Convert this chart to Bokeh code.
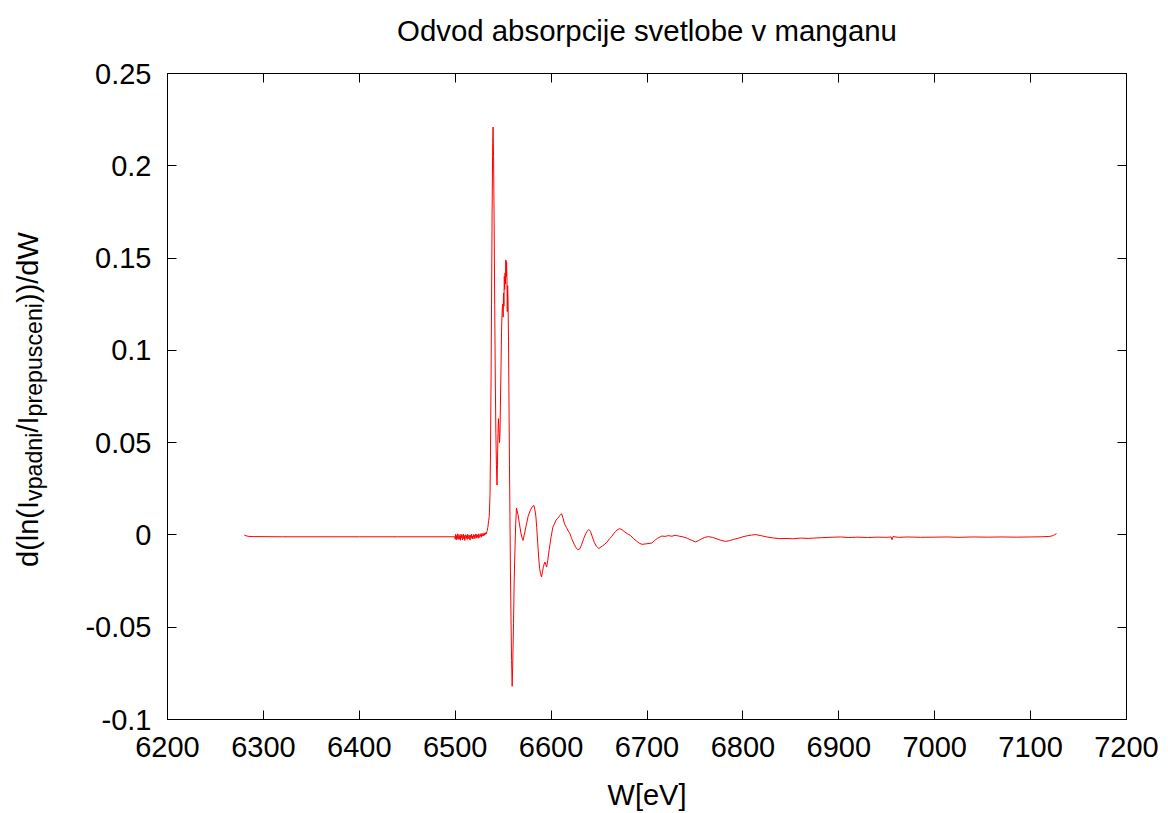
from bokeh.plotting import figure
from bokeh.models import Range1d, LinearAxis, FixedTicker, PrintfTickFormatter, CustomJSTickFormatter, Div
from bokeh.layouts import column
from bokeh.embed import file_html
from bokeh.resources import INLINE

# ---------------- data ----------------
W_base = [6280.0, 6282.0, 6285.0, 6290.0, 6320.0, 6360.0, 6400.0, 6440.0, 6480.0, 6499.5]
D_base = [0.0000, -0.0005, -0.0008, -0.0009, -0.0010, -0.0010, -0.0010, -0.0010, -0.0010, -0.0010]

W_noise = [6500.0, 6500.5, 6501.0, 6501.5, 6502.0, 6502.5, 6503.0, 6503.5, 6504.0, 6504.5,
           6505.0, 6505.5, 6506.0, 6506.5, 6507.0, 6507.5, 6508.0, 6508.5, 6509.0, 6509.5,
           6510.0, 6510.5, 6511.0, 6511.5, 6512.0, 6512.5, 6513.0, 6513.5, 6514.0, 6514.5,
           6515.0, 6515.5, 6516.0, 6516.5, 6517.0, 6517.5, 6518.0, 6518.5, 6519.0, 6519.5,
           6520.0, 6520.5, 6521.0, 6521.5, 6522.0, 6522.5, 6523.0, 6523.5, 6524.0, 6524.5,
           6525.0, 6525.5, 6526.0, 6526.5, 6527.0, 6527.5, 6528.0, 6528.5, 6529.0, 6529.5,
           6530.0, 6530.5, 6531.0, 6531.5, 6532.0, 6532.5, 6533.0, 6533.5, 6534.0, 6534.5, 6535.0]
D_noise = [-0.0022, 0.0003, -0.0027, -0.0004, -0.0019, 0.0006, -0.0025, -0.0008, 0.0002, -0.0023,
           -0.0006, -0.0029, 0.0004, -0.0015, -0.0001, -0.0026, -0.0009, 0.0005, -0.0021, -0.0003,
           -0.0030, -0.0007, 0.0001, -0.0018, -0.0004, -0.0024, 0.0003, -0.0012, -0.0020, 0.0000,
           -0.0016, -0.0028, -0.0002, -0.0013, 0.0004, -0.0019, -0.0006, -0.0022, 0.0002, -0.0011,
           -0.0003, -0.0020, 0.0005, -0.0009, -0.0017, 0.0003, -0.0010, -0.0001, -0.0018, 0.0006,
           -0.0008, -0.0014, 0.0002, -0.0007, 0.0008, -0.0012, 0.0001, -0.0005, 0.0009, -0.0004,
           0.0006, -0.0002, 0.0011, 0.0003, 0.0012, 0.0006, 0.0018, 0.0025, 0.0040, 0.0060, 0.0080]

W_edge = [6535.5, 6536.3, 6536.8, 6537.4, 6537.9, 6538.5, 6539.1, 6539.5, 6540.0, 6540.6,
          6541.2, 6541.8, 6542.4, 6543.0, 6543.6, 6544.1, 6544.6, 6545.1, 6545.6, 6546.2,
          6546.7, 6547.2, 6547.8, 6548.3, 6548.8, 6549.2, 6549.6, 6550.0, 6550.4, 6550.8,
          6551.2, 6551.6, 6552.0, 6552.4, 6552.8, 6553.2, 6553.6, 6554.0, 6554.3, 6554.7,
          6555.1, 6555.6, 6556.1, 6556.6, 6557.1, 6557.6, 6558.2, 6558.8, 6559.4, 6560.0,
          6560.8, 6561.5, 6562.3, 6563.1, 6563.9]
D_edge = [0.010, 0.022, 0.045, 0.085, 0.125, 0.175, 0.212, 0.221, 0.205, 0.170,
          0.125, 0.085, 0.055, 0.038, 0.027, 0.040, 0.055, 0.063, 0.058, 0.050,
          0.055, 0.072, 0.092, 0.110, 0.119, 0.123, 0.125, 0.118, 0.131, 0.124,
          0.140, 0.133, 0.142, 0.136, 0.149, 0.140, 0.148, 0.138, 0.121, 0.135,
          0.128, 0.105, 0.072, 0.038, 0.010, -0.020, -0.045, -0.068, -0.082, -0.070,
          -0.048, -0.025, -0.008, 0.006, 0.0146]

W_exafs = [6565.5, 6567.0, 6568.5, 6570.0, 6570.7, 6572.0, 6574.0, 6576.0, 6578.0, 6580.0,
           6582.0, 6583.0, 6584.2, 6585.0, 6586.0, 6587.0, 6588.0, 6589.0, 6590.0, 6591.0,
           6592.0, 6593.5, 6594.5, 6595.3, 6596.5, 6598.0, 6600.0, 6601.9, 6603.5, 6605.0,
           6607.0, 6609.0, 6610.9, 6612.5, 6614.0, 6616.0, 6618.0, 6619.6, 6621.5, 6624.0,
           6626.0, 6628.0, 6630.0, 6632.0, 6634.0, 6636.0, 6637.5, 6639.4, 6641.0, 6643.0,
           6645.0, 6647.0, 6649.8, 6652.0, 6654.0, 6656.0, 6658.5, 6661.0, 6663.0, 6665.0,
           6667.0, 6669.0, 6671.5, 6674.0, 6677.0, 6680.0, 6682.6, 6686.0, 6689.0, 6692.0,
           6694.8, 6698.0, 6701.0, 6705.0, 6708.0, 6711.0, 6715.5, 6719.0, 6722.0, 6726.0,
           6729.4, 6733.0, 6738.0, 6742.0, 6746.0, 6750.6, 6754.0, 6757.0, 6760.0, 6764.0,
           6768.0, 6772.0, 6777.0, 6781.9, 6786.0, 6790.0, 6795.7, 6800.0, 6805.0, 6809.0,
           6813.0, 6818.0, 6825.0, 6831.0, 6837.5, 6845.0, 6852.0, 6860.0, 6868.0, 6874.0,
           6882.0, 6890.0, 6901.8, 6910.0, 6920.0, 6930.0, 6940.0, 6950.0, 6954.5, 6955.5,
           6956.5, 6962.0, 6972.0, 6985.0, 7000.0, 7013.0, 7025.0, 7040.0, 7055.0, 7070.0,
           7085.0, 7100.0, 7112.0, 7120.0, 7123.0, 7125.0, 7127.0]
D_exafs = [0.011, 0.006, 0.001, -0.002, -0.003, 0.000, 0.005, 0.010, 0.013, 0.015,
           0.016, 0.014, 0.0097, 0.004, -0.004, -0.012, -0.018, -0.021, -0.0228, -0.020,
           -0.017, -0.0147, -0.016, -0.0174, -0.014, -0.008, -0.001, 0.0043, 0.006, 0.008,
           0.009, 0.0105, 0.0115, 0.009, 0.006, 0.004, 0.002, 0.0007, -0.002, -0.005,
           -0.007, -0.008, -0.0075, -0.005, -0.002, 0.0005, 0.002, 0.0029, 0.002, -0.001,
           -0.004, -0.006, -0.0074, -0.0065, -0.0058, -0.005, -0.0038, -0.002, -0.001, 0.0005,
           0.0018, 0.0028, 0.0034, 0.0028, 0.0015, 0.0005, -0.0002, -0.002, -0.0033, -0.0045,
           -0.0051, -0.0049, -0.0047, -0.0044, -0.003, -0.0018, -0.0006, -0.0008, -0.0004, -0.0007,
           -0.0002, -0.0006, -0.0011, -0.0018, -0.0028, -0.0038, -0.0030, -0.0021, -0.0014, -0.0009,
           -0.0013, -0.0020, -0.0029, -0.0035, -0.0031, -0.0025, -0.0017, -0.0010, -0.0004, -0.0001,
           0.0002, -0.0003, -0.0011, -0.0016, -0.0020, -0.0019, -0.0021, -0.0017, -0.0019, -0.0017,
           -0.0015, -0.0013, -0.0011, -0.0014, -0.0012, -0.0014, -0.0012, -0.0013, -0.0011, -0.0026,
           -0.0009, -0.0013, -0.0011, -0.0013, -0.0012, -0.0011, -0.0013, -0.0011, -0.0012, -0.0011,
           -0.0012, -0.0011, -0.0010, -0.0008, -0.0004, 0.0001, 0.0007]

W = W_base + W_noise + W_edge + W_exafs
D = D_base + D_noise + D_edge + D_exafs

x_ticks = [6200, 6300, 6400, 6500, 6600, 6700, 6800, 6900, 7000, 7100, 7200]
y_ticks = [-0.1, -0.05, 0.0, 0.05, 0.1, 0.15, 0.2, 0.25]

TITLE = "Odvod absorpcije svetlobe v manganu"
XLABEL = "W[eV]"
YLABEL_PARTS = ["d(ln(I", "vpadni", "/I", "prepusceni", "))/dW"]

# ---------------- layout ----------------
WIDTH, HEIGHT = 1168, 813
L, R, T, B = 167, 42, 73, 94
FONT = "Liberation Sans"
FS = 29

p = figure(width=WIDTH, height=HEIGHT, output_backend="svg", toolbar_location=None,
           x_range=Range1d(6200, 7200), y_range=Range1d(-0.1, 0.25),
           min_border_left=L, min_border_right=R, min_border_top=T, min_border_bottom=B,
           x_axis_location=None, y_axis_location=None)
p.grid.visible = False
p.outline_line_color = "black"
p.outline_line_width = 1
p.background_fill_color = "white"
p.border_fill_color = "white"

p.line(W, D, line_color="#ff0000", line_width=1)

def style_axis(ax, labels=True, standoff=5):
    ax.major_tick_in = 9
    ax.major_tick_out = 0
    ax.minor_tick_line_color = None
    ax.axis_line_color = "black"
    ax.major_tick_line_color = "black"
    ax.major_label_text_font = FONT
    ax.major_label_text_color = "black"
    ax.major_label_standoff = standoff
    if labels:
        ax.major_label_text_font_size = f"{FS}px"
    else:
        ax.major_label_text_font_size = "1px"
        ax.formatter = CustomJSTickFormatter(code="return ''")

def style_label(ax, text, standoff, size):
    ax.axis_label = text
    ax.axis_label_text_font = FONT
    ax.axis_label_text_font_size = f"{size}px"
    ax.axis_label_text_font_style = "normal"
    ax.axis_label_text_color = "black"
    ax.axis_label_standoff = standoff

xb = LinearAxis(ticker=FixedTicker(ticks=x_ticks))
style_axis(xb, True, 17)
style_label(xb, XLABEL, 19, FS)
p.add_layout(xb, "below")

# top mirror axis (ticks only); its axis label carries the chart title
xt = LinearAxis(ticker=FixedTicker(ticks=x_ticks))
style_axis(xt, False)
style_label(xt, TITLE, 27, 29.4)
p.add_layout(xt, "above")

yl = LinearAxis(ticker=FixedTicker(ticks=y_ticks), formatter=PrintfTickFormatter(format="%g"))
style_axis(yl, True, 16)
p.add_layout(yl, "left")
yr = LinearAxis(ticker=FixedTicker(ticks=y_ticks))
style_axis(yr, False)
p.add_layout(yr, "right")

# rotated y label with subscripts (HTML overlay at the left of the frame)
sub_style = "font-size:23.2px;vertical-align:-4px;line-height:0;"
ylabel_html = (
    f'<span style="font-family:\'{FONT}\';font-size:{FS}px;line-height:{FS}px;color:black;white-space:nowrap;">'
    f'{YLABEL_PARTS[0]}<sub style="{sub_style}">{YLABEL_PARTS[1]}</sub>'
    f'{YLABEL_PARTS[2]}<sub style="{sub_style}">{YLABEL_PARTS[3]}</sub>'
    f'{YLABEL_PARTS[4]}</span>'
)
ylab = Div(text=ylabel_html, width=400, height=40,
           styles={"position": "absolute", "left": "14px", "top": "567px",
                   "transform": "rotate(-90deg)", "transform-origin": "0px 0px",
                   "z-index": "10", "margin": "0px", "padding": "0px"})

layout = column(p, ylab)
open("out.html", "w").write(file_html(layout, INLINE))
